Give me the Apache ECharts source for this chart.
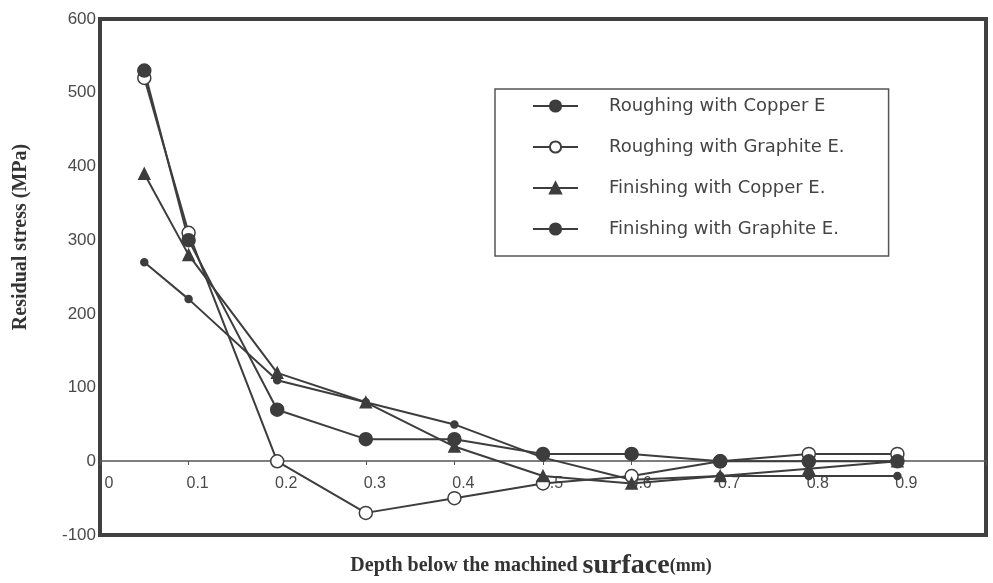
<!DOCTYPE html>
<html>
<head>
<meta charset="utf-8">
<title>Residual stress vs depth</title>
<script src="https://cdn.jsdelivr.net/npm/echarts@6/dist/echarts.min.js"></script>
<style>
  * { box-sizing: border-box; margin: 0; padding: 0; }
  html, body { background: #fff; }
  #chart { width: 993px; height: 583px; }
</style>
</head>
<body>
<div id="chart"></div>
<script>
  // depth below the machined surface (mm)
  const depth = [0.05, 0.1, 0.2, 0.3, 0.4, 0.5, 0.6, 0.7, 0.8, 0.9];
  // residual stress (MPa)
  const roughCopper = [270, 220, 110, 80, 50, 5, -25, -20, -20, -20];
  const roughGraphite = [520, 310, 0, -70, -50, -30, -20, 0, 10, 10];
  const finishCopper = [390, 280, 120, 80, 20, -20, -30, -20, -10, 0];
  const finishGraphite = [530, 300, 70, 30, 30, 10, 10, 0, 0, 0];
  const seriesNames = [
    'Roughing with Copper E',
    'Roughing with Graphite E.',
    'Finishing with Copper E.',
    'Finishing with Graphite E.'
  ];

  const ink = '#3d3d3d';
  const pairs = vals => depth.map((d, i) => [d, vals[i]]);

  function line(name, vals, symbol, size, fill) {
    return {
      name: name,
      type: 'line',
      data: pairs(vals),
      symbol: symbol,
      symbolSize: size,
      showSymbol: true,
      lineStyle: { color: ink, width: 2 },
      itemStyle: { color: fill, borderColor: ink, borderWidth: 1.5 },
      emphasis: { disabled: true }
    };
  }

  const myChart = echarts.init(document.getElementById('chart'));
  const option = {
    animation: false,
    backgroundColor: '#fff',
    grid: {
      left: 100, right: 7, top: 19, bottom: 48,
      show: true,
      borderColor: '#404040',
      borderWidth: 4,
      backgroundColor: 'transparent'
    },
    legend: {
      orient: 'vertical',
      left: 495,
      top: 89,
      data: seriesNames,
      itemWidth: 45,
      itemHeight: 14,
      itemGap: 23,
      padding: [8, 44, 18, 37],
      borderColor: '#555',
      borderWidth: 1.5,
      textStyle: {
        fontFamily: 'DejaVu Sans, sans-serif',
        fontSize: 18,
        color: '#444',
        padding: [0, 0, 0, 26]
      }
    },
    xAxis: {
      type: 'value',
      min: 0,
      max: 1,
      interval: 0.1,
      // the axis sits on the zero line, labels go with it
      offset: -74,
      axisLine: { onZero: false, lineStyle: { color: '#555', width: 1.5 } },
      axisTick: { show: true, length: 4, lineStyle: { color: '#555' } },
      splitLine: { show: false },
      axisLabel: {
        fontFamily: 'Liberation Sans, Arial, sans-serif',
        fontSize: 16,
        color: '#4a4a4a',
        margin: 15,
        padding: [0, 0, 0, 18],
        formatter: v => (v >= 0.95 ? '' : String(Math.round(v * 10) / 10))
      }
    },
    yAxis: {
      type: 'value',
      min: -100,
      max: 600,
      interval: 100,
      axisLine: { show: false },
      axisTick: { show: false },
      splitLine: { show: false },
      axisLabel: {
        fontFamily: 'Liberation Sans, Arial, sans-serif',
        fontSize: 17,
        color: '#4a4a4a',
        margin: 4
      }
    },
    graphic: [
      {
        type: 'text',
        x: 21,
        y: 237,
        rotation: Math.PI / 2,
        style: {
          text: 'Residual stress (MPa)',
          font: 'bold 20px "Liberation Serif", "Times New Roman", serif',
          fill: '#333',
          align: 'center',
          verticalAlign: 'middle'
        }
      },
      {
        type: 'text',
        x: 531,
        y: 566,
        style: {
          text: '{a|Depth below the machined }{b|surface}{c|(mm)}',
          align: 'center',
          verticalAlign: 'middle',
          rich: {
            a: { fontFamily: 'Liberation Serif, serif', fontWeight: 'bold', fontSize: 20, fill: '#333', color: '#333' },
            b: { fontFamily: 'Liberation Serif, serif', fontWeight: 'bold', fontSize: 28, fill: '#333', color: '#333' },
            c: { fontFamily: 'Liberation Serif, serif', fontWeight: 'bold', fontSize: 18, fill: '#333', color: '#333' }
          }
        }
      }
    ],
    series: [
      line(seriesNames[0], roughCopper, 'circle', 7, ink),
      line(seriesNames[1], roughGraphite, 'circle', 13, '#fff'),
      line(seriesNames[2], finishCopper, 'triangle', 11, ink),
      line(seriesNames[3], finishGraphite, 'circle', 13, ink)
    ]
  };
  myChart.setOption(option);
</script>
</body>
</html>
